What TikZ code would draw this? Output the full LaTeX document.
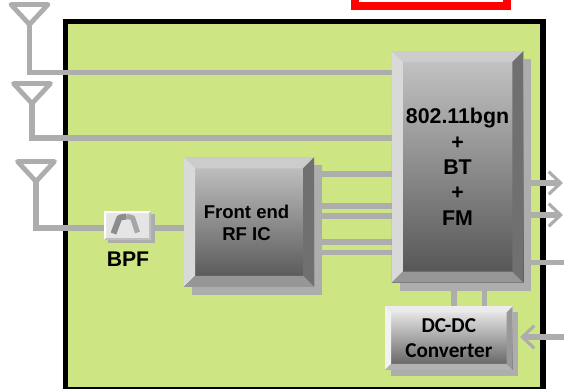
\documentclass[tikz,border=0pt]{standalone}
\usepackage{fontspec}
\setmainfont{Liberation Sans}
\newfontfamily\dcfont{Carlito}
\usetikzlibrary{arrows.meta}
\usetikzlibrary{backgrounds}
\usetikzlibrary{shadows}
\definecolor{board-green}{HTML}{CDE683}
\definecolor{wire-gray}{HTML}{ADADAD}
\tikzset{
  wire/.style={draw=wire-gray, line width=3.9pt},
  wire tip/.style={wire, -{Straight Barb[length=9pt,width=17pt,line width=2.4pt]}},
  aerial/.style={draw=wire-gray, line width=3.6pt, line join=round},
  block/.style 2 args={
    rectangle, inner sep=0pt, outer sep=0pt, align=center,
    minimum width=#1*0.75pt, minimum height=#2*0.75pt},
  dark block/.style={
    top color=black!22, bottom color=black!68,
    drop shadow={shadow xshift=6pt, shadow yshift=-6pt, fill=wire-gray, opacity=1}},
}

\begin{document}
\begin{tikzpicture}[x=0.75pt, y=-0.75pt]
  \useasboundingbox (0,0) rectangle (564,389);

  % blocks
  \node[block={130}{129.5}, dark block] (rfic) at (249,222) {};
  \node[font=\bfseries\fontsize{13.9}{16.3}\selectfont, align=center, inner sep=0pt] (rfic-label) at (246.5,223) {Front end\\RF IC};
  \node[block={131.5}{231.5}, dark block, font=\bfseries\fontsize{16}{19.1}\selectfont] (mac) at (457.5,166.8) {802.11bgn\\+\\BT\\+\\FM};
  \node[block={127.5}{63.5}, shading angle=155, top color=black!5, bottom color=black!65,
    drop shadow={shadow xshift=4.2pt, shadow yshift=-4.5pt, fill=wire-gray, opacity=1},
    font=\dcfont\bfseries\fontsize{15.9}{18.8}\selectfont] (dcdc) at (448.8,338.2) {DC-DC\\Converter};
  \node[block={47}{29}, fill=black!10,
    drop shadow={shadow xshift=3pt, shadow yshift=-2.5pt, fill=wire-gray, opacity=1}] (bpf) at (127.5,225.5) {};
  \node[font=\bfseries\fontsize{15.9}{18}\selectfont, inner sep=0pt] (bpf-label) at (128,259.5) {BPF};

  % bevels
  \foreach \n/\b/\ct/\cl/\cr/\cb in {rfic/11/black!20/black!15/black!56/black!41,
    mac/11/black!20/black!15/black!56/black!41,
    dcdc/6/black!8/black!5/black!40/black!30,
    bpf/2/white/white/black!25/black!25} {
    \fill[\ct] (\n.north west) -- (\n.north east) -- ([shift={(-\b,\b)}]\n.north east) -- ([shift={(\b,\b)}]\n.north west) -- cycle;
    \fill[\cl] (\n.north west) -- (\n.south west) -- ([shift={(\b,-\b)}]\n.south west) -- ([shift={(\b,\b)}]\n.north west) -- cycle;
    \fill[\cr] (\n.north east) -- (\n.south east) -- ([shift={(-\b,-\b)}]\n.south east) -- ([shift={(-\b,\b)}]\n.north east) -- cycle;
    \fill[\cb] (\n.south west) -- (\n.south east) -- ([shift={(-\b,-\b)}]\n.south east) -- ([shift={(\b,-\b)}]\n.south west) -- cycle;
  }

  % filter icon
  \draw[black!45, line width=4.4pt, line join=round] ([shift={(-14,8)}]bpf.center) -- ([shift={(-8,-8)}]bpf.center) -- ([shift={(-1,-9)}]bpf.center);
  \draw[black!35, line width=3.8pt, line join=round] ([shift={(-1,-9)}]bpf.center) -- ([shift={(5,-8)}]bpf.center) -- ([shift={(10,7)}]bpf.center);

  \begin{scope}[on background layer]
    \node[block={477.5}{368.5}, draw=black, line width=3.9pt, fill=board-green] (board) at (304.25,205.75) {};

    % red tab at the top
    \draw[red, line width=6.2pt] (355,-20) rectangle (507,5.8);

    % aerials
    \foreach \name/\x/\y [count=\i from 1] in {a/29.5/4.5, b/32/83.5, c/36/161.5} {
      \coordinate (ant-\name) at (\x, \y+20);
      \draw[aerial] (\x-18.5, \y) -- (\x+18.5, \y) -- (ant-\name) -- cycle;
    }
    \draw[wire] (ant-a) |- (mac.west |- 0,72.5);
    \draw[wire] (ant-b) |- (mac.west |- 0,138);
    \draw[wire] (ant-c) |- (bpf.west |- 0,228);
    \draw[wire] (bpf.east |- 0,228) -- (rfic.west |- 0,228);

    % links between rf and baseband
    \foreach \y in {174,206,216,242,252.5} {
      \draw[wire] (rfic.east |- 0,\y) -- (mac.west |- 0,\y);
    }
    \foreach \x in {454,484.7} {
      \draw[wire] (\x,0 |- mac.south) -- (\x,0 |- dcdc.north);
    }

    % pins on the right
    \coordinate (out-a) at (563,183);
    \coordinate (out-b) at (563,215);
    \coordinate (out-c) at (564,262.5);
    \coordinate (in-a) at (564,337);
    \draw[wire tip] (mac.east |- out-a) -- (out-a);
    \draw[wire tip] (mac.east |- out-b) -- (out-b);
    \draw[wire] (mac.east |- out-c) -- (out-c);
    \draw[wire tip] (in-a) -- (520,337);
  \end{scope}
\end{tikzpicture}
\end{document}
